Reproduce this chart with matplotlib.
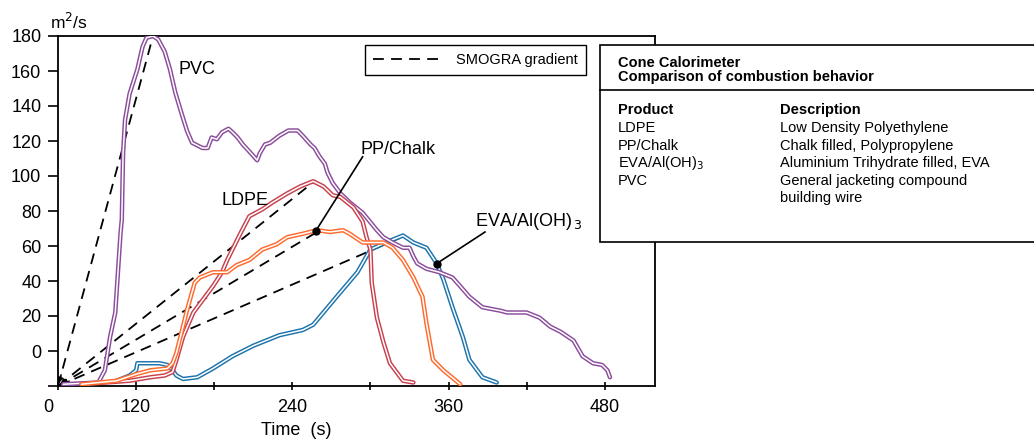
import matplotlib
matplotlib.use("Agg")
import matplotlib.pyplot as plt
import matplotlib.transforms as mtransforms
from matplotlib.lines import Line2D
from matplotlib.patches import Rectangle

plt.rcParams['font.family'] = ['Liberation Sans', 'DejaVu Sans']

# smoke production rate curves, time (s) vs m2/s
pvc_t = [64, 91, 96, 100, 104, 108, 109, 110, 111.5, 115, 121, 125, 128, 133, 137, 142, 146, 150,
         154, 159, 163, 171, 175, 178, 182, 186, 191, 194, 198, 202, 207, 213, 215, 219, 223, 230,
         237, 244, 248, 254, 257, 261, 265, 267, 271, 277, 284, 294, 305, 310, 317, 325, 330, 333,
         336, 343, 353, 363, 369, 376, 386, 400, 405, 420, 430, 438, 446, 456, 463, 471, 478, 482, 484]
pvc_v = [-19, -18, -11, 8, 22, 67, 75, 113, 132, 147, 161, 174, 179, 180, 178, 171, 161, 148,
         138, 126, 119, 116, 116, 122, 121, 125, 127, 125, 122, 118, 114, 109, 113, 118, 119, 123,
         126, 126, 123, 118, 116, 111, 107, 102, 96, 90, 85, 79, 69, 65, 62, 59, 59, 54,
         50, 47, 45, 42, 37, 31, 25, 23, 22, 22, 19, 14, 11, 6, -3, -7, -8, -11, -15]

ldpe_t = [78, 115, 131, 142, 148, 151, 156, 164, 171, 179, 186, 190, 194, 200, 207, 217, 225, 236,
          246, 256, 264, 271, 277, 287, 294, 297, 300, 301, 305, 310, 315, 325, 333]
ldpe_v = [-19, -17, -15, -14, -12, -5, 8, 22, 29, 37, 45, 52, 58, 67, 77, 81, 85, 90,
          94, 97, 94, 89, 88, 82, 74, 65, 58, 39, 19, 5, -7, -17, -18]

pp_t = [78, 105, 121, 131, 144, 148, 151, 154, 159, 165, 169, 179, 190, 197, 207, 217, 228, 236,
        248, 259, 269, 279, 284, 294, 310, 317, 325, 333, 340, 343, 348, 356, 369]
pp_v = [-19, -17, -13, -11, -10, -7, -1, 8, 23, 39, 42, 45, 45, 49, 52, 58, 61, 65,
        67, 69, 68, 69, 67, 62, 62, 59, 52, 42, 31, 16, -5, -11, -19]

eva_t = [105, 115, 120, 121, 129, 138, 144, 148, 151, 156, 167, 179, 194, 210, 230, 248, 256, 274,
         290, 300, 315, 325, 333, 343, 351, 356, 363, 371, 376, 386, 397]
eva_v = [-17, -14, -11, -7, -7, -7, -8, -11, -14, -16, -15, -10, -3, 3, 9, 12, 15, 31,
         45, 58, 63, 66, 62, 59, 50, 41, 25, 8, -5, -15, -18]

# SMOGRA gradient lines: origin to peak of each product
origin = (60, -20)
peak_t = [133, 257, 259, 327]
peak_v = [180, 97, 68, 66]

x_ticks = [60, 120, 180, 240, 300, 360, 420, 480]
x_labels = ['0', '120', '', '240', '', '360', '', '480']
y_ticks = [-20, 0, 20, 40, 60, 80, 100, 120, 140, 160, 180]
y_labels = ['', '0', '20', '40', '60', '80', '100', '120', '140', '160', '180']

purple = '#8B4C9B'
red = '#C8404E'
orange = '#FF6A2C'
blue = '#1B74AC'
dash = (0, (6, 4))

fig = plt.figure(figsize=(10.34, 4.44), dpi=100)
ax = fig.add_axes([58 / 1034, 58 / 444, 597 / 1034, 350 / 444])

for t, v in zip(peak_t, peak_v):
    ax.plot([origin[0], t], [origin[1], v], color='black', lw=1.3, linestyle=dash, zorder=2)
    ax.annotate('', xy=origin, xytext=(origin[0] + (t - origin[0]) * 0.04, origin[1] + (v - origin[1]) * 0.04),
                arrowprops=dict(arrowstyle='-|>', color='black', lw=1, mutation_scale=8), zorder=2)

for t, v, c in [(eva_t, eva_v, blue), (pvc_t, pvc_v, purple), (ldpe_t, ldpe_v, red), (pp_t, pp_v, orange)]:
    ax.plot(t, v, color=c, lw=3.2, solid_joinstyle='round', solid_capstyle='round', zorder=3)
    ax.plot(t, v, color='white', lw=1.1, solid_joinstyle='round', solid_capstyle='round', zorder=3)

# labels and pointers
ax.text(167, 161, 'PVC', fontsize=13, ha='center', va='center')
ax.text(204, 86, 'LDPE', fontsize=13, ha='center', va='center')
ax.text(321, 115, 'PP/Chalk', fontsize=13, ha='center', va='center')
ax.text(380, 74, 'EVA/Al(OH)$_{\\,3}$', fontsize=13, ha='left', va='center')
ax.plot([294, 258], [111, 68.6], color='black', lw=1.2, zorder=4)
ax.plot([258], [68.6], 'o', color='black', ms=5, zorder=4)
ax.plot([388, 351], [68, 50], color='black', lw=1.2, zorder=4)
ax.plot([351], [50], 'o', color='black', ms=5, zorder=4)

ax.set_xlim(60, 518.6)
ax.set_ylim(-20, 180)
ax.set_xticks(x_ticks)
ax.set_xticklabels(x_labels)
ax.set_yticks(y_ticks)
ax.set_yticklabels(y_labels)
ax.tick_params(axis='x', direction='inout', length=6, width=1.2, labelsize=13, pad=6)
ax.tick_params(axis='y', direction='out', length=7, width=1.2, labelsize=13, pad=5)
for s in ax.spines.values():
    s.set_linewidth(1.3)
shift = mtransforms.ScaledTranslation(-0.10, 0, fig.dpi_scale_trans)
lbl0 = ax.get_xticklabels()[0]
lbl0.set_transform(lbl0.get_transform() + shift)

leg = ax.legend(handles=[Line2D([], [], color='black', lw=1.3, linestyle=dash)],
                labels=['SMOGRA gradient'], loc='upper left',
                bbox_to_anchor=((365 - 58) / 597, (386 - 45) / 350),
                fancybox=False, framealpha=1, edgecolor='black', fontsize=10.5,
                handlelength=4.8, borderpad=0.55, handletextpad=0.9, borderaxespad=0)
leg.get_frame().set_linewidth(1.0)

fig.text(50 / 1034, 1 - 22 / 444, 'm$^2$/s', fontsize=12.5, ha='left', va='center')
fig.text(296 / 1034, 1 - 430 / 444, 'Time  (s)', fontsize=13, ha='center', va='center')

# info box on the right
fig.patches.append(Rectangle((600 / 1034, 1 - 242 / 444), 0.45, (242 - 45) / 444,
                             transform=fig.transFigure, facecolor='white', edgecolor='black', lw=1.2))
fig.lines.append(Line2D([600 / 1034, 1.0], [1 - 90 / 444, 1 - 90 / 444],
                        transform=fig.transFigure, color='black', lw=1.2))
bx = 618 / 1034
dx = 780 / 1034
fs = 10.5
fig.text(bx, 1 - 63 / 444, 'Cone Calorimeter', fontsize=fs, fontweight='bold', va='center')
fig.text(bx, 1 - 77 / 444, 'Comparison of combustion behavior', fontsize=fs, fontweight='bold', va='center')
fig.text(bx, 1 - 110 / 444, 'Product', fontsize=fs, fontweight='bold', va='center')
fig.text(dx, 1 - 110 / 444, 'Description', fontsize=fs, fontweight='bold', va='center')
rows = [('LDPE', 'Low Density Polyethylene'),
        ('PP/Chalk', 'Chalk filled, Polypropylene'),
        ('EVA/Al(OH)$_3$', 'Aluminium Trihydrate filled, EVA'),
        ('PVC', 'General jacketing compound')]
for i, (p, d) in enumerate(rows):
    y = 1 - (128 + i * 17.6) / 444
    fig.text(bx, y, p, fontsize=fs, va='center')
    fig.text(dx, y, d, fontsize=fs, va='center')
fig.text(dx, 1 - 198 / 444, 'building wire', fontsize=fs, va='center')

fig.savefig('out.png', dpi=100)
